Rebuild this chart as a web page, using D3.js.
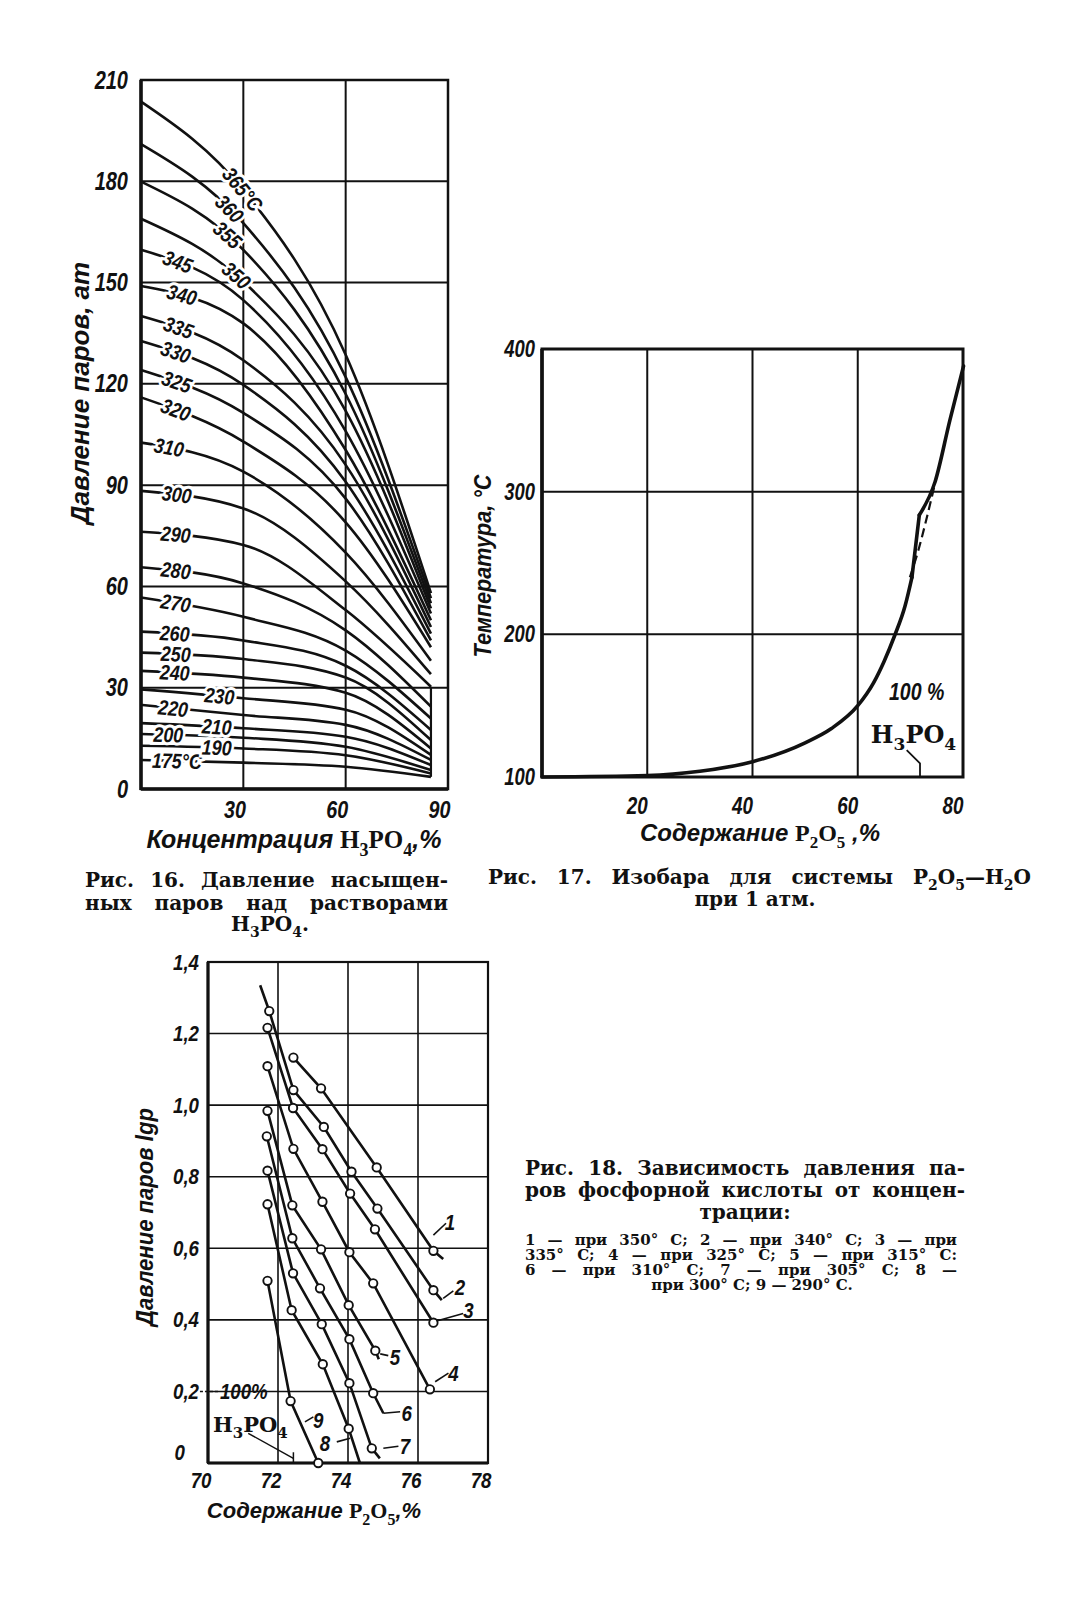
<!DOCTYPE html>
<html><head><meta charset="utf-8">
<script src="https://cdn.jsdelivr.net/npm/d3@7"></script>
<style>
body{margin:0;background:#fff;}
svg{display:block;background:#fff;}
.it{font-family:"Liberation Sans","DejaVu Sans",sans-serif;font-style:italic;font-weight:bold;}
.sf{font-family:"DejaVu Serif","Liberation Serif",serif;font-weight:bold;font-style:normal;}
.sf2{font-family:"Liberation Serif","DejaVu Serif",serif;font-weight:bold;font-style:normal;}
</style></head><body>
<svg id="page" width="1090" height="1600"></svg>
<script>
// ---------- Fig. 16 data ----------
const f16Temps = [175,190,200,210,220,230,240,250,260,270,280,290,300,310,320,325,330,335,340,345,350,355,360,365];
const f16Conc = [0, 30, 60, 85];
const f16Pressure = [
 [8.6,7.8,6.6,3.6],
 [12.8,12.0,10.0,4.6],
 [16.3,15.2,12.5,5.6],
 [19.5,18.0,15.5,7.1],
 [24.9,21.9,19.0,8.6],
 [29.5,26.9,23.5,10.1],
 [35.0,33.0,28.5,12.0],
 [40.4,38.5,33.0,14.5],
 [46.6,44.0,36.5,17.5],
 [56.7,51.0,41.0,20.9],
 [65.7,60.9,47.0,24.4],
 [76.2,72.3,53.0,30.3],
 [88.3,83.1,61.5,34.0],
 [102.6,94.0,70.0,38.0],
 [116.0,102.9,79.0,42.0],
 [124.1,111.4,86.0,44.0],
 [132.7,119.7,91.0,46.0],
 [140.1,127.0,96.0,48.0],
 [149.0,137.9,100.4,50.0],
 [159.7,144.8,106.0,52.0],
 [168.9,150.3,112.0,53.5],
 [179.9,159.7,117.0,55.0],
 [191.0,167.6,122.0,56.5],
 [203.6,177.4,128.6,58.0]
];
const f16LabelText = ["175°C","190","200","210","220","230","240","250","260","270","280","290","300","310","320","325","330","335","340","345","350","355","360","365°C"];
const f16LabelAt = [10.5,22.2,8,22.2,9.4,23,9.9,10.2,9.9,10.2,10.2,10.2,10.5,8.2,10.2,10.5,10.2,11,12,10.8,28,25.4,26,29.8];
const f16XTicks = [30,60,90];
const f16YTicks = [0,30,60,90,120,150,180,210];

// ---------- Fig. 17 data ----------
const f17P2O5 = [0,20,30,40,50,55,60,63,65,67,69,70.3,71.7,74.7,77.5,80.1];
const f17Temp = [100,101,104,110.7,124,134,150,166,181,199,220,240,283.6,307,350,388];
const f17DashP2O5 = [69.9,71.6,73.2,74.7];
const f17DashTemp = [240,260,283,306];
const f17XTicks = [20,40,60,80];
const f17YTicks = [100,200,300,400];

// ---------- Fig. 18 data ----------
const f18Names = ["1","2","3","4","5","6","7","8","9"];
const f18Temps = [350,340,335,325,315,310,305,300,290];
const f18Points = [
 [[72.44,1.133],[73.23,1.047],[74.82,0.826],[76.44,0.593]],
 [[71.75,1.263],[72.44,1.042],[73.31,0.939],[74.1,0.814],[74.84,0.711],[76.44,0.483]],
 [[71.7,1.216],[72.43,0.992],[73.27,0.877],[74.06,0.753],[74.77,0.653],[76.44,0.392]],
 [[71.7,1.109],[72.44,0.878],[73.27,0.730],[74.04,0.589],[74.72,0.502],[76.34,0.206]],
 [[71.7,0.984],[72.41,0.720],[73.23,0.597],[74.02,0.441],[74.78,0.314]],
 [[71.68,0.913],[72.41,0.628],[73.2,0.488],[74.04,0.346],[74.72,0.195]],
 [[71.7,0.817],[72.43,0.530],[73.25,0.388],[74.04,0.223],[74.68,0.041]],
 [[71.7,0.723],[72.39,0.427],[73.28,0.276],[74.02,0.096]],
 [[71.7,0.509],[72.36,0.173],[73.15,0.0]]
];
const f18ExtStart = [null,[71.49,1.335],null,null,null,null,null,null,null];
const f18ExtEnd = [[76.72,0.57],[76.68,0.455],null,null,[74.88,0.29],[75.01,0.139],[74.91,0.013],[74.34,0.0],null];
const f18LabelPos = [[76.91,0.674],[77.2,0.492],[77.44,0.427],[77.01,0.25],[75.34,0.297],[75.68,0.139],[75.63,0.046],[73.34,0.055],[73.15,0.12]];
const f18LeaderA = [[76.44,0.637],[76.72,0.46],[76.53,0.397],[76.49,0.227],[74.92,0.305],[75.01,0.139],[75.01,0.041],[73.68,0.059],[72.77,0.115]];
const f18LeaderB = [[76.8,0.67],[77.01,0.481],[77.29,0.418],[76.87,0.251],[75.15,0.30],[75.49,0.143],[75.44,0.047],[74.06,0.069],[73.01,0.129]];
const f18XTicks = [70,72,74,76,78];
const f18YTicks = [0,0.2,0.4,0.6,0.8,1.0,1.2,1.4];

// ---------- helpers ----------
const svg = d3.select('#page');
function rich(sel, x, y, segs, size, anchor, base) {
  const t = sel.append('text').attr('x', x).attr('y', y).attr('font-size', size)
    .attr('text-anchor', anchor || 'start').attr('fill', '#111');
  let shift = 0;
  segs.forEach(s => {
    const ts = t.append('tspan').attr('class', s.c || base || 'sf').text(s.t);
    const want = s.sub ? Math.round(size * 0.3) : 0;
    if (want !== shift) { ts.attr('dy', want - shift); shift = want; }
    if (s.sub) ts.attr('font-size', Math.round(size * 0.72));
    if (s.i) ts.attr('font-style', 'italic');
  });
  return t;
}
const chem = (parts, cls) => parts.map(p => typeof p === 'number' ? {t: String(p), c: cls || 'sf2', sub: true} : {t: p, c: cls || 'sf2'});
function condense(sel, f) {
  sel.each(function () {
    const w = this.getComputedTextLength();
    d3.select(this).attr('textLength', w * f).attr('lengthAdjust', 'spacingAndGlyphs');
  });
}
function justify(t, width) {
  const n = t.node();
  const txt = n.textContent;
  const spaces = (txt.match(/ /g) || []).length;
  const w = n.getComputedTextLength();
  if (w < width && spaces > 0) t.attr('word-spacing', (width - w) / spaces);
  else if (w > width) t.attr('textLength', width).attr('lengthAdjust', 'spacingAndGlyphs');
  return t;
}
function styleAxis(g, size, f) {
  g.select('.domain').remove();
  g.selectAll('.tick line').remove();
  g.selectAll('.tick text').attr('class', 'it').attr('font-size', size).attr('fill', '#111');
  condense(g.selectAll('.tick text'), f);
}

// ================= FIG 16 =================
const x16 = d3.scaleLinear().domain([0, 90]).range([141, 448]);
const y16 = d3.scaleLinear().domain([0, 210]).range([789, 80]);
const g16 = svg.append('g');
g16.selectAll('.gx').data([30, 60]).join('line')
  .attr('x1', d => x16(d)).attr('x2', d => x16(d)).attr('y1', y16(0)).attr('y2', y16(210))
  .attr('stroke', '#111').attr('stroke-width', 2);
g16.selectAll('.gy').data([30, 60, 90, 120, 150, 180]).join('line')
  .attr('x1', x16(0)).attr('x2', x16(90)).attr('y1', d => y16(d)).attr('y2', d => y16(d))
  .attr('stroke', '#111').attr('stroke-width', 2);
g16.append('rect').attr('x', x16(0)).attr('y', y16(210)).attr('width', x16(90) - x16(0)).attr('height', y16(0) - y16(210))
  .attr('fill', 'none').attr('stroke', '#111').attr('stroke-width', 2.5);
g16.append('line').attr('x1', x16(0)).attr('x2', x16(0)).attr('y1', y16(0) + 1).attr('y2', y16(210))
  .attr('stroke', '#111').attr('stroke-width', 3.5);
g16.append('line').attr('x1', x16(0)).attr('x2', x16(90)).attr('y1', y16(0)).attr('y2', y16(0))
  .attr('stroke', '#111').attr('stroke-width', 3.5);

const line16 = d3.line().x(d => x16(d[0])).y(d => y16(d[1])).curve(d3.curveMonotoneX);
const paths16 = f16Pressure.map(row => {
  const pts = f16Conc.map((c, i) => [c, row[i]]);
  return g16.append('path').attr('d', line16(pts)).attr('fill', 'none')
    .attr('stroke', '#111').attr('stroke-width', 2.6).node();
});
g16.append('line').attr('x1', x16(f16Conc[3])).attr('x2', x16(f16Conc[3]))
  .attr('y1', y16(d3.min(f16Pressure, r => r[3]))).attr('y2', y16(f16Pressure[11][3]))
  .attr('stroke', '#111').attr('stroke-width', 2.2);

function pointAtX(node, px) {
  let lo = 0, hi = node.getTotalLength();
  for (let k = 0; k < 40; k++) {
    const mid = (lo + hi) / 2;
    if (node.getPointAtLength(mid).x < px) lo = mid; else hi = mid;
  }
  return node.getPointAtLength((lo + hi) / 2);
}
f16Temps.forEach((t, i) => {
  const px = x16(f16LabelAt[i]);
  const p = pointAtX(paths16[i], px);
  const p1 = pointAtX(paths16[i], px - 6), p2 = pointAtX(paths16[i], px + 6);
  const ang = Math.atan2(p2.y - p1.y, p2.x - p1.x) * 180 / Math.PI;
  const tx = g16.append('text').attr('class', 'it').attr('font-size', 21)
    .attr('text-anchor', 'middle').attr('dy', '0.36em')
    .attr('transform', `translate(${p.x},${p.y}) rotate(${ang})`)
    .attr('stroke', '#fff').attr('stroke-width', 6).attr('paint-order', 'stroke')
    .attr('fill', '#111').text(f16LabelText[i]);
  condense(tx, 0.85);
});
const ax16y = g16.append('g').attr('transform', `translate(${x16(0)},0)`)
  .call(d3.axisLeft(y16).tickValues(f16YTicks).tickSize(0).tickPadding(13).tickFormat(d3.format('d')));
styleAxis(ax16y, 25, 0.8);
const ax16x = g16.append('g').attr('transform', `translate(0,${y16(0)})`)
  .call(d3.axisBottom(x16).tickValues(f16XTicks).tickSize(0).tickPadding(12).tickFormat(d3.format('d')));
styleAxis(ax16x, 24, 0.82);
ax16x.selectAll('.tick text').attr('text-anchor', 'end').attr('dx', 2);
g16.append('text').attr('class', 'it').attr('font-size', 26).attr('text-anchor', 'middle').attr('font-weight', 'normal')
  .attr('transform', `translate(89,393) rotate(-90)`).attr('fill', '#111').text('Давление паров, ат');
rich(g16, 294, 848, [{t: 'Концентрация ', c: 'it'}].concat(chem(['H', 3, 'PO', 4])).concat([{t: ',%', c: 'it'}]), 25, 'middle');
// caption
justify(rich(g16, 85, 887, [{t: 'Рис. 16. Давление насыщен-'}], 20), 363);
justify(rich(g16, 85, 910, [{t: 'ных паров над растворами'}], 20), 363);
rich(g16, 270, 931, chem(['H', 3, 'PO', 4], 'sf').concat([{t: '.'}]), 20, 'middle');

// ================= FIG 17 =================
const x17 = d3.scaleLinear().domain([0, 80]).range([542, 963]);
const y17 = d3.scaleLinear().domain([100, 400]).range([777, 349]);
const g17 = svg.append('g');
g17.selectAll('.gx').data([20, 40, 60]).join('line')
  .attr('x1', d => x17(d)).attr('x2', d => x17(d)).attr('y1', y17(100)).attr('y2', y17(400))
  .attr('stroke', '#111').attr('stroke-width', 2);
g17.selectAll('.gy').data([200, 300]).join('line')
  .attr('x1', x17(0)).attr('x2', x17(80)).attr('y1', d => y17(d)).attr('y2', d => y17(d))
  .attr('stroke', '#111').attr('stroke-width', 2);
g17.append('rect').attr('x', x17(0)).attr('y', y17(400)).attr('width', x17(80) - x17(0)).attr('height', y17(100) - y17(400))
  .attr('fill', 'none').attr('stroke', '#111').attr('stroke-width', 3);
g17.append('line').attr('x1', x17(0)).attr('x2', x17(0)).attr('y1', y17(100)).attr('y2', y17(400))
  .attr('stroke', '#111').attr('stroke-width', 3.5);
const pts17 = f17P2O5.map((v, i) => [v, f17Temp[i]]);
const sm17 = d3.line().x(d => x17(d[0])).y(d => y17(d[1])).curve(d3.curveMonotoneX);
const ln17 = d3.line().x(d => x17(d[0])).y(d => y17(d[1]));
[[sm17, pts17.slice(0, 12)], [ln17, pts17.slice(11, 13)], [sm17, pts17.slice(12)]].forEach(([gen, p]) => {
  g17.append('path').attr('d', gen(p)).attr('fill', 'none').attr('stroke', '#111')
    .attr('stroke-width', 3.6).attr('stroke-linejoin', 'round').attr('stroke-linecap', 'round');
});
g17.append('path').attr('d', sm17(f17DashP2O5.map((v, i) => [v, f17DashTemp[i]])))
  .attr('fill', 'none').attr('stroke', '#111').attr('stroke-width', 2.2).attr('stroke-dasharray', '9,5');
condense(rich(g17, x17(71.2), y17(154), [{t: '100 %', c: 'it'}], 23, 'middle'), 0.85);
rich(g17, x17(70.6), y17(124), chem(['H', 3, 'PO', 4], 'sf'), 24, 'middle');
g17.append('path').attr('d', d3.line()([[x17(69.3), y17(118.9)], [x17(71.83), y17(109.6)], [x17(71.83), y17(100)]]))
  .attr('fill', 'none').attr('stroke', '#111').attr('stroke-width', 1.8);
const ax17y = g17.append('g').attr('transform', `translate(${x17(0)},0)`)
  .call(d3.axisLeft(y17).tickValues(f17YTicks).tickSize(0).tickPadding(7).tickFormat(d3.format('d')));
styleAxis(ax17y, 23, 0.8);
const ax17x = g17.append('g').attr('transform', `translate(0,${y17(100)})`)
  .call(d3.axisBottom(x17).tickValues(f17XTicks).tickSize(0).tickPadding(21).tickFormat(d3.format('d')));
styleAxis(ax17x, 23, 0.82);
ax17x.selectAll('.tick text').attr('text-anchor', 'end').attr('dx', 0);
condense(g17.append('text').attr('class', 'it').attr('font-size', 24).attr('text-anchor', 'middle').attr('font-weight', 'normal')
  .attr('transform', `translate(491,566) rotate(-90)`).attr('fill', '#111').text('Температура, °С'), 0.9);
rich(g17, 760, 841, [{t: 'Содержание ', c: 'it'}].concat(chem(['P', 2, 'O', 5])).concat([{t: ' ,%', c: 'it'}]), 24, 'middle');
// caption
justify(rich(g17, 488, 884, [{t: 'Рис. 17. Изобара для системы P'}, {t: '2', sub: true}, {t: 'O'}, {t: '5', sub: true}, {t: '—H'}, {t: '2', sub: true}, {t: 'O'}], 20), 543);
rich(g17, 755, 906, [{t: 'при 1 '}, {t: 'атм', i: true}, {t: '.'}], 20, 'middle');

// ================= FIG 18 =================
const x18 = d3.scaleLinear().domain([70, 78]).range([208, 488]);
const y18 = d3.scaleLinear().domain([0, 1.4]).range([1463, 962]);
const g18 = svg.append('g');
g18.selectAll('.gx').data([72, 74, 76]).join('line')
  .attr('x1', d => x18(d)).attr('x2', d => x18(d)).attr('y1', y18(0)).attr('y2', y18(1.4))
  .attr('stroke', '#111').attr('stroke-width', 1.6);
g18.selectAll('.gy').data([0.2, 0.4, 0.6, 0.8, 1.0, 1.2]).join('line')
  .attr('x1', x18(70)).attr('x2', x18(78)).attr('y1', d => y18(d)).attr('y2', d => y18(d))
  .attr('stroke', '#111').attr('stroke-width', 1.6);
g18.append('rect').attr('x', x18(70)).attr('y', y18(1.4)).attr('width', x18(78) - x18(70)).attr('height', y18(0) - y18(1.4))
  .attr('fill', 'none').attr('stroke', '#111').attr('stroke-width', 2.2);
g18.append('line').attr('x1', x18(70)).attr('x2', x18(70)).attr('y1', y18(0)).attr('y2', y18(1.4)).attr('stroke', '#111').attr('stroke-width', 3.2);
g18.append('line').attr('x1', x18(70)).attr('x2', x18(78)).attr('y1', y18(0)).attr('y2', y18(0)).attr('stroke', '#111').attr('stroke-width', 3.2);
const line18 = d3.line().x(d => x18(d[0])).y(d => y18(d[1]));
f18Points.forEach((pts, i) => {
  const all = [];
  if (f18ExtStart[i]) all.push(f18ExtStart[i]);
  all.push(...pts);
  if (f18ExtEnd[i]) all.push(f18ExtEnd[i]);
  g18.append('path').attr('d', line18(all)).attr('fill', 'none').attr('stroke', '#111').attr('stroke-width', 2.6);
});
f18Points.forEach(pts => {
  g18.selectAll(null).data(pts).join('circle')
    .attr('cx', d => x18(d[0])).attr('cy', d => y18(d[1])).attr('r', 4.2)
    .attr('fill', '#fff').attr('stroke', '#111').attr('stroke-width', 1.9);
});
f18Names.forEach((n, i) => {
  g18.append('line').attr('x1', x18(f18LeaderA[i][0])).attr('y1', y18(f18LeaderA[i][1]))
    .attr('x2', x18(f18LeaderB[i][0])).attr('y2', y18(f18LeaderB[i][1]))
    .attr('stroke', '#111').attr('stroke-width', 1.6);
  condense(g18.append('text').attr('class', 'it').attr('font-size', 22).attr('text-anchor', 'middle').attr('dy', '0.36em')
    .attr('x', x18(f18LabelPos[i][0])).attr('y', y18(f18LabelPos[i][1])).attr('fill', '#111').text(n), 0.85);
});
g18.append('line').attr('x1', x18(69.77)).attr('x2', x18(70.31)).attr('y1', y18(0.2)).attr('y2', y18(0.2))
  .attr('stroke', '#111').attr('stroke-width', 1.5).attr('stroke-dasharray', '3,2');
condense(rich(g18, x18(70.34), y18(0.179), [{t: '100%', c: 'it'}], 22, 'start'), 0.85);
rich(g18, x18(70.14), y18(0.087), chem(['H', 3, 'PO', 4], 'sf'), 21, 'start');
g18.append('path').attr('d', d3.line()([[x18(71.15), y18(0.083)], [x18(72.44), y18(0.013)]]))
  .attr('stroke', '#111').attr('stroke-width', 1.5);
g18.append('line').attr('x1', x18(72.44)).attr('x2', x18(72.44)).attr('y1', y18(0.03)).attr('y2', y18(0))
  .attr('stroke', '#111').attr('stroke-width', 1.5);
const fmt18 = v => v === 0 ? '0' : v.toFixed(1).replace('.', ',');
const ax18y = g18.append('g').attr('transform', `translate(${x18(70)},0)`)
  .call(d3.axisLeft(y18).tickValues(f18YTicks).tickSize(0).tickPadding(9).tickFormat(fmt18));
styleAxis(ax18y, 22, 0.85);
ax18y.selectAll('.tick text').filter(d => d === 0).attr('dy', '-0.15em').attr('dx', -14);
const ax18x = g18.append('g').attr('transform', `translate(0,${y18(0)})`)
  .call(d3.axisBottom(x18).tickValues(f18XTicks).tickSize(0).tickPadding(9).tickFormat(d3.format('d')));
styleAxis(ax18x, 22, 0.85);
ax18x.selectAll('.tick text').attr('text-anchor', 'end').attr('dx', 3);
condense(g18.append('text').attr('class', 'it').attr('font-size', 24).attr('text-anchor', 'middle').attr('font-weight', 'normal')
  .attr('transform', `translate(153,1217) rotate(-90)`).attr('fill', '#111').text('Давление паров  lgp'), 0.92);
rich(g18, 314, 1518, [{t: 'Содержание ', c: 'it'}].concat(chem(['P', 2, 'O', 5])).concat([{t: ',%', c: 'it'}]), 22, 'middle');
// caption
justify(rich(g18, 525, 1175, [{t: 'Рис. 18. Зависимость давления па-'}], 20), 440);
justify(rich(g18, 525, 1197, [{t: 'ров фосфорной кислоты от концен-'}], 20), 440);
rich(g18, 745, 1219, [{t: 'трации:'}], 20, 'middle');
justify(rich(g18, 525, 1245, [{t: '1', i: true}, {t: ' — при 350° С; '}, {t: '2', i: true}, {t: ' — при 340° С; '}, {t: '3', i: true}, {t: ' — при'}], 15), 432);
justify(rich(g18, 525, 1260, [{t: '335° С; '}, {t: '4', i: true}, {t: ' — при 325° С; '}, {t: '5', i: true}, {t: ' — при 315° С:'}], 15), 432);
justify(rich(g18, 525, 1275, [{t: '6', i: true}, {t: ' — при 310° С; '}, {t: '7', i: true}, {t: ' — при 305° С; '}, {t: '8', i: true}, {t: ' —'}], 15), 432);
rich(g18, 752, 1290, [{t: 'при 300° С; '}, {t: '9', i: true}, {t: ' — 290° С.'}], 15, 'middle');
</script>
</body></html>
